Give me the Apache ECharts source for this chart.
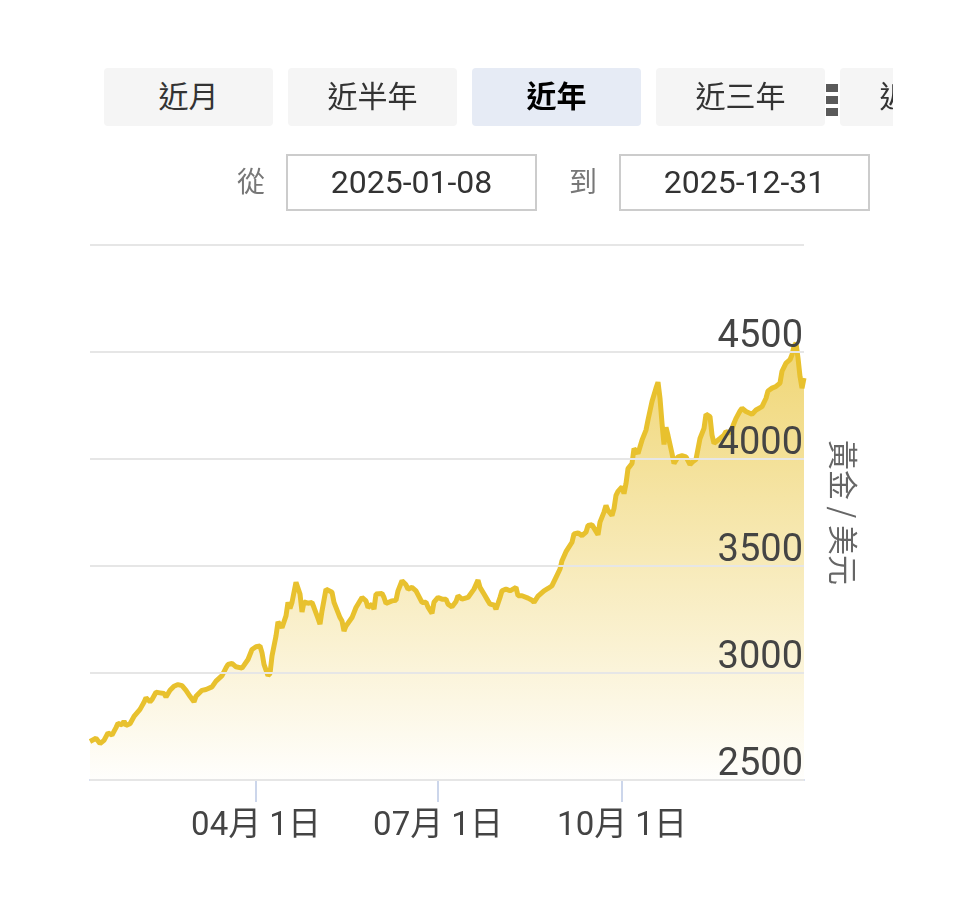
<!DOCTYPE html>
<html><head><meta charset="utf-8">
<script src="https://cdn.jsdelivr.net/npm/echarts@6/dist/echarts.min.js"></script>
<style>
html,body{margin:0;padding:0;background:#fff;width:959px;height:900px;overflow:hidden;font-family:Roboto,"Noto Sans CJK TC",sans-serif;}
#chart{position:absolute;left:0;top:0;width:959px;height:900px;}
.tabs{position:absolute;left:104px;top:68px;width:789px;height:58px;overflow:hidden;z-index:2}
.tab{position:absolute;top:0;width:169px;height:58px;background:#f5f5f5;border-radius:4px;font-size:30px;line-height:52px;text-align:center;color:#333;font-family:"Noto Sans CJK TC",sans-serif;}
.tab.active{background:#e6ebf5;color:#000;font-weight:bold;}
.dot{position:absolute;left:826px;width:12px;height:8px;background:#5a5a5a;z-index:3}
.lbl{position:absolute;top:160px;font-size:28px;color:#777;font-family:"Noto Sans CJK TC",sans-serif;z-index:2}
.box{position:absolute;top:154px;width:251px;height:57px;box-sizing:border-box;border:2px solid #ccc;text-align:center;font-size:32px;line-height:53px;color:#333;z-index:2;font-family:Roboto,sans-serif;}
</style></head>
<body>
<div id="chart"></div>
<div class="tabs">
  <div class="tab" style="left:0">近月</div>
  <div class="tab" style="left:184px">近半年</div>
  <div class="tab active" style="left:368px">近年</div>
  <div class="tab" style="left:552px">近三年</div>
  <div class="tab" style="left:736px">近五年</div>
</div>
<div class="dot" style="top:84px"></div>
<div class="dot" style="top:96px"></div>
<div class="dot" style="top:108px"></div>
<div class="lbl" style="left:237px">從</div>
<div class="box" style="left:286px">2025-01-08</div>
<div class="lbl" style="left:569px">到</div>
<div class="box" style="left:619px">2025-12-31</div>
<script>
const dates = ['2025-01-08','2025-01-11','2025-01-13','2025-01-15','2025-01-17','2025-01-19','2025-01-21','2025-01-22','2025-01-24','2025-01-25','2025-01-26','2025-01-28','2025-01-30','2025-01-31',
'2025-02-02','2025-02-04','2025-02-05','2025-02-07','2025-02-08','2025-02-10','2025-02-12','2025-02-13','2025-02-14','2025-02-15','2025-02-17','2025-02-19','2025-02-21','2025-02-23','2025-02-25','2025-02-27',
'2025-03-01','2025-03-02','2025-03-05','2025-03-07','2025-03-10','2025-03-12','2025-03-15','2025-03-17','2025-03-18','2025-03-20','2025-03-22','2025-03-23','2025-03-25','2025-03-26','2025-03-28','2025-03-30',
'2025-04-01','2025-04-03','2025-04-04','2025-04-05','2025-04-07','2025-04-08','2025-04-09','2025-04-11','2025-04-12','2025-04-14','2025-04-16','2025-04-17','2025-04-18','2025-04-19','2025-04-21','2025-04-22','2025-04-23','2025-04-24','2025-04-25','2025-04-27','2025-04-29','2025-04-30',
'2025-05-02','2025-05-03','2025-05-04','2025-05-06','2025-05-07','2025-05-09','2025-05-10','2025-05-11','2025-05-13','2025-05-14','2025-05-15','2025-05-16','2025-05-17','2025-05-19','2025-05-21','2025-05-22','2025-05-24','2025-05-25','2025-05-26','2025-05-27','2025-05-29','2025-05-30','2025-05-31',
'2025-06-01','2025-06-03','2025-06-04','2025-06-05','2025-06-06','2025-06-08','2025-06-10','2025-06-11','2025-06-13','2025-06-15','2025-06-16','2025-06-18','2025-06-20','2025-06-21','2025-06-23','2025-06-25','2025-06-26','2025-06-28','2025-06-29',
'2025-07-01','2025-07-03','2025-07-05','2025-07-06','2025-07-08','2025-07-10','2025-07-11','2025-07-13','2025-07-14','2025-07-16','2025-07-17','2025-07-19','2025-07-21','2025-07-22','2025-07-24','2025-07-26','2025-07-27','2025-07-29','2025-07-30',
'2025-08-01','2025-08-02','2025-08-04','2025-08-06','2025-08-07','2025-08-09','2025-08-10','2025-08-12','2025-08-15','2025-08-17','2025-08-18','2025-08-20','2025-08-23','2025-08-25','2025-08-27','2025-08-29','2025-08-31',
'2025-09-01','2025-09-03','2025-09-04','2025-09-06','2025-09-07','2025-09-09','2025-09-11','2025-09-13','2025-09-14','2025-09-16','2025-09-17','2025-09-19','2025-09-20','2025-09-22','2025-09-23','2025-09-24','2025-09-26','2025-09-27','2025-09-28','2025-09-29',
'2025-10-01','2025-10-02','2025-10-03','2025-10-04','2025-10-06','2025-10-07','2025-10-09','2025-10-10','2025-10-11','2025-10-13','2025-10-14','2025-10-16','2025-10-17','2025-10-18','2025-10-19','2025-10-20','2025-10-21','2025-10-22','2025-10-23','2025-10-24','2025-10-26','2025-10-27','2025-10-29','2025-10-31',
'2025-11-02','2025-11-04','2025-11-05','2025-11-07','2025-11-09','2025-11-11','2025-11-12','2025-11-14','2025-11-15','2025-11-16','2025-11-17','2025-11-19','2025-11-21','2025-11-22','2025-11-24','2025-11-26','2025-11-27','2025-11-29','2025-11-30',
'2025-12-02','2025-12-03','2025-12-05','2025-12-07','2025-12-08','2025-12-10','2025-12-12','2025-12-13','2025-12-15','2025-12-17','2025-12-19','2025-12-20','2025-12-22','2025-12-24','2025-12-25','2025-12-26','2025-12-27','2025-12-28','2025-12-29','2025-12-30','2025-12-31'];

const prices = [2680,2695,2670,2685,2720,2710,2745,2765,2758,2775,2755,2763,2797,2805,
2830,2863,2884,2866,2876,2910,2907,2915,2904,2888,2919,2938,2946,2941,2919,2891,
2865,2891,2919,2923,2935,2962,2988,3024,3040,3045,3029,3032,3023,3029,3063,3110,
3123,3126,3095,3040,2988,2998,3079,3173,3239,3212,3267,3330,3301,3330,3424,3431,3369,3285,3332,3326,3330,3306,
3255,3228,3290,3392,3397,3377,3330,3325,3259,3243,3196,3220,3215,3259,3306,3309,3353,3361,3337,3306,3322,3298,3369,
3365,3372,3353,3325,3332,3337,3340,3384,3431,3412,3392,3400,3384,3392,3330,3331,3308,3279,3331,
3353,3345,3345,3322,3309,3334,3361,3345,3337,3353,3353,3392,3434,3400,3369,3337,3322,3318,3298,
3353,3384,3392,3384,3392,3400,3361,3361,3350,3340,3330,3359,3384,3395,3408,3447,3486,
3525,3567,3567,3611,3650,3655,3642,3658,3689,3693,3677,3646,3705,3752,3783,3760,3736,3768,3830,3849,
3870,3838,3885,3955,3979,4049,4026,4026,4088,4135,4182,4269,4276,4331,4359,4284,4167,4068,4148,4110,4026,3979,4010,4015,
4010,3974,3984,3999,4096,4143,4209,4198,4112,4073,4065,4096,4112,4128,4120,4167,4190,4224,4237,
4222,4224,4209,4229,4222,4245,4284,4318,4331,4339,4355,4410,4448,4464,4487,4527,4542,4472,4386,4331,4378];

const tickDates = ['2025-04-01','2025-07-01','2025-10-01'];
const rangeStart = '2025-01-08';
const rangeEnd = '2025-12-31';
const yTicks = [2500, 3000, 3500, 4000, 4500, 5000];
const axisName = '黃金 / 美元';

function ts(s){ const p = s.split('-'); return new Date(+p[0], +p[1]-1, +p[2]).getTime(); }
function pad(n){ return (n<10?'0':'')+n; }

const seriesData = dates.map((d,i)=>[ts(d), prices[i]]);
const tickTs = tickDates.map(ts);

const chart = echarts.init(document.getElementById('chart'), null, {renderer:'canvas'});
chart.setOption({
  animation:false,
  backgroundColor:'#fff',
  grid:{left:90, right:155, top:245, bottom:120, containLabel:false},
  xAxis:{
    type:'value',
    min: ts(rangeStart), max: ts(rangeEnd),
    axisLine:{show:true, lineStyle:{color:'#ccd6eb', width:2}},
    axisTick:{show:true, customValues: tickTs, length:22, lineStyle:{color:'#ccd6eb', width:2}},
    axisLabel:{
      customValues: tickTs,
      margin:30,
      fontSize:33,
      color:'#444',
      fontFamily:'Roboto, "Noto Sans CJK TC", sans-serif',
      formatter:function(v){ const d=new Date(v); return pad(d.getMonth()+1)+'月 '+d.getDate()+'日'; }
    },
    splitLine:{show:false}
  },
  yAxis:{
    type:'value',
    position:'right',
    min: yTicks[0], max: yTicks[yTicks.length-1], interval: yTicks[1]-yTicks[0],
    z:10,
    name: axisName,
    nameLocation:'middle',
    nameRotate:-90,
    nameGap:24,
    nameTextStyle:{fontSize:30, color:'#666', fontFamily:'"Noto Sans CJK TC", sans-serif'},
    axisLine:{show:false},
    axisTick:{show:false},
    axisLabel:{
      inside:true, margin:1, fontSize:38, lineHeight:30, color:'#444', verticalAlign:'bottom',
      showMaxLabel:false,
      fontFamily:'Roboto, sans-serif',
      formatter:function(v){ return String(v); }
    },
    splitLine:{show:true, lineStyle:{color:'#e6e6e6', width:2}}
  },
  series:[{
    type:'line',
    data: seriesData,
    showSymbol:false,
    lineStyle:{color:'#e8c12e', width:5},
    itemStyle:{color:'#e8c12e'},
    areaStyle:{
      color: new echarts.graphic.LinearGradient(0,0,0,1,[
        {offset:0, color:'rgba(232,193,46,0.95)'},
        {offset:1, color:'rgba(232,193,46,0.02)'}
      ])
    }
  }]
});
</script>
</body></html>
